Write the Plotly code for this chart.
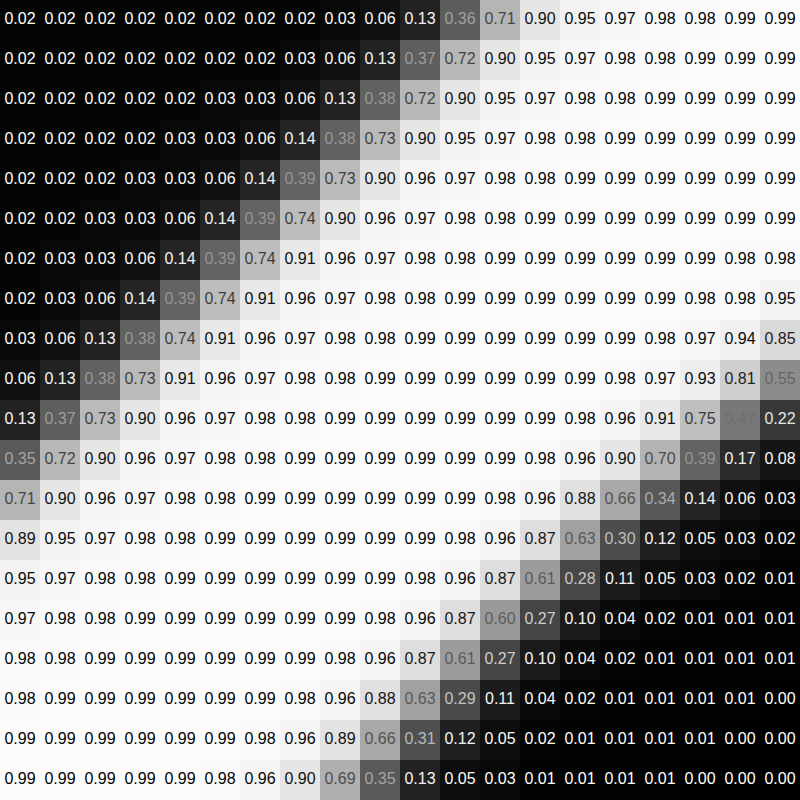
import numpy as np
import plotly.graph_objects as go

rows = [
    [0.02, 0.02, 0.02, 0.02, 0.02, 0.02, 0.02, 0.02, 0.03, 0.06, 0.13, 0.36, 0.71, 0.90, 0.95, 0.97, 0.98, 0.98, 0.99, 0.99],
    [0.02, 0.02, 0.02, 0.02, 0.02, 0.02, 0.02, 0.03, 0.06, 0.13, 0.37, 0.72, 0.90, 0.95, 0.97, 0.98, 0.98, 0.99, 0.99, 0.99],
    [0.02, 0.02, 0.02, 0.02, 0.02, 0.03, 0.03, 0.06, 0.13, 0.38, 0.72, 0.90, 0.95, 0.97, 0.98, 0.98, 0.99, 0.99, 0.99, 0.99],
    [0.02, 0.02, 0.02, 0.02, 0.03, 0.03, 0.06, 0.14, 0.38, 0.73, 0.90, 0.95, 0.97, 0.98, 0.98, 0.99, 0.99, 0.99, 0.99, 0.99],
    [0.02, 0.02, 0.02, 0.03, 0.03, 0.06, 0.14, 0.39, 0.73, 0.90, 0.96, 0.97, 0.98, 0.98, 0.99, 0.99, 0.99, 0.99, 0.99, 0.99],
    [0.02, 0.02, 0.03, 0.03, 0.06, 0.14, 0.39, 0.74, 0.90, 0.96, 0.97, 0.98, 0.98, 0.99, 0.99, 0.99, 0.99, 0.99, 0.99, 0.99],
    [0.02, 0.03, 0.03, 0.06, 0.14, 0.39, 0.74, 0.91, 0.96, 0.97, 0.98, 0.98, 0.99, 0.99, 0.99, 0.99, 0.99, 0.99, 0.98, 0.98],
    [0.02, 0.03, 0.06, 0.14, 0.39, 0.74, 0.91, 0.96, 0.97, 0.98, 0.98, 0.99, 0.99, 0.99, 0.99, 0.99, 0.99, 0.98, 0.98, 0.95],
    [0.03, 0.06, 0.13, 0.38, 0.74, 0.91, 0.96, 0.97, 0.98, 0.98, 0.99, 0.99, 0.99, 0.99, 0.99, 0.99, 0.98, 0.97, 0.94, 0.85],
    [0.06, 0.13, 0.38, 0.73, 0.91, 0.96, 0.97, 0.98, 0.98, 0.99, 0.99, 0.99, 0.99, 0.99, 0.99, 0.98, 0.97, 0.93, 0.81, 0.55],
    [0.13, 0.37, 0.73, 0.90, 0.96, 0.97, 0.98, 0.98, 0.99, 0.99, 0.99, 0.99, 0.99, 0.99, 0.98, 0.96, 0.91, 0.75, 0.47, 0.22],
    [0.35, 0.72, 0.90, 0.96, 0.97, 0.98, 0.98, 0.99, 0.99, 0.99, 0.99, 0.99, 0.99, 0.98, 0.96, 0.90, 0.70, 0.39, 0.17, 0.08],
    [0.71, 0.90, 0.96, 0.97, 0.98, 0.98, 0.99, 0.99, 0.99, 0.99, 0.99, 0.99, 0.98, 0.96, 0.88, 0.66, 0.34, 0.14, 0.06, 0.03],
    [0.89, 0.95, 0.97, 0.98, 0.98, 0.99, 0.99, 0.99, 0.99, 0.99, 0.99, 0.98, 0.96, 0.87, 0.63, 0.30, 0.12, 0.05, 0.03, 0.02],
    [0.95, 0.97, 0.98, 0.98, 0.99, 0.99, 0.99, 0.99, 0.99, 0.99, 0.98, 0.96, 0.87, 0.61, 0.28, 0.11, 0.05, 0.03, 0.02, 0.01],
    [0.97, 0.98, 0.98, 0.99, 0.99, 0.99, 0.99, 0.99, 0.99, 0.98, 0.96, 0.87, 0.60, 0.27, 0.10, 0.04, 0.02, 0.01, 0.01, 0.01],
    [0.98, 0.98, 0.99, 0.99, 0.99, 0.99, 0.99, 0.99, 0.98, 0.96, 0.87, 0.61, 0.27, 0.10, 0.04, 0.02, 0.01, 0.01, 0.01, 0.01],
    [0.98, 0.99, 0.99, 0.99, 0.99, 0.99, 0.99, 0.98, 0.96, 0.88, 0.63, 0.29, 0.11, 0.04, 0.02, 0.01, 0.01, 0.01, 0.01, 0.00],
    [0.99, 0.99, 0.99, 0.99, 0.99, 0.99, 0.98, 0.96, 0.89, 0.66, 0.31, 0.12, 0.05, 0.02, 0.01, 0.01, 0.01, 0.01, 0.00, 0.00],
    [0.99, 0.99, 0.99, 0.99, 0.99, 0.98, 0.96, 0.90, 0.69, 0.35, 0.13, 0.05, 0.03, 0.01, 0.01, 0.01, 0.01, 0.00, 0.00, 0.00],
]
col_ids = list(range(20))
row_ids = list(range(20))

z = np.array(rows)

fig = go.Figure()
fig.add_trace(go.Heatmap(
    z=z, x=col_ids, y=row_ids,
    colorscale=[[0, "#000000"], [1, "#ffffff"]],
    zmin=0, zmax=1, showscale=False, hoverinfo="skip",
))

xs, ys, texts, colors = [], [], [], []
for r in row_ids:
    for c in col_ids:
        v = z[r, c]
        g = int(round(np.interp(v, [0, 0.2, 0.35, 0.47, 0.55, 0.7, 0.81, 0.9, 1.0],
                                [255, 240, 165, 110, 102, 75, 36, 17, 0])))
        xs.append(c)
        ys.append(r)
        texts.append(f"{v:.2f}")
        colors.append(f"rgb({g},{g},{g})")

fig.add_trace(go.Scatter(
    x=xs, y=ys, text=texts, mode="text",
    textfont=dict(family="Liberation Sans, Arial, sans-serif", size=16, color=colors),
    hoverinfo="skip", showlegend=False,
))

fig.update_layout(
    width=800, height=800,
    margin=dict(l=0, r=0, t=0, b=0),
    paper_bgcolor="white", plot_bgcolor="white",
    showlegend=False,
)
fig.update_xaxes(visible=False, range=[-0.5, 19.5])
fig.update_yaxes(visible=False, range=[19.5, -0.5])

fig.write_html("out.html")
